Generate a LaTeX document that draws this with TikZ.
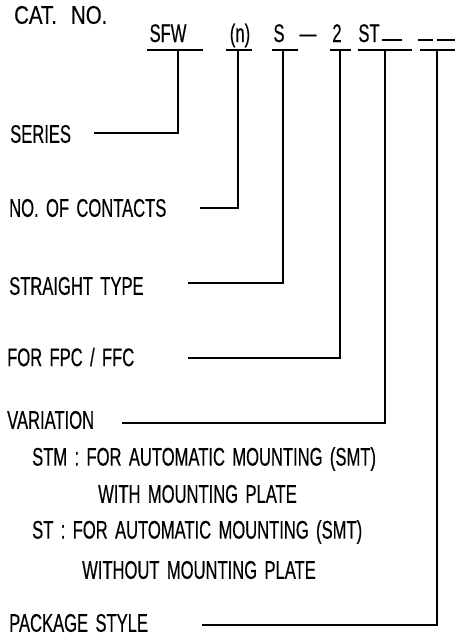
\documentclass[tikz,border=0pt]{standalone}
\usepackage{fontspec}
\setmainfont{Liberation Sans}[FakeStretch=0.65,WordSpace=1.6,FakeBold=0.4]
\newfontfamily\catfont{Liberation Sans}[FakeStretch=0.8,WordSpace=2.5,FakeBold=0.4]
\begin{document}
\begin{tikzpicture}[x=1pt,y=-1pt,
  lbl/.style={anchor=west,inner sep=0pt,font=\fontsize{25.5}{25.5}\selectfont},
  top/.style={anchor=base,inner sep=0pt,font=\fontsize{25.5}{25.5}\selectfont},
  ln/.style={line width=1.1pt}]
\useasboundingbox (0,0) rectangle (472,641);
% top row
\node[lbl,font=\catfont\fontsize{25.5}{25.5}\selectfont] (cat) at (14,15) {CAT. NO.};
\node[top] (sfw) at (168,42) {SFW};
\node[top] (nn) at (240,42) {(n)};
\node[top] (ss) at (279,42) {S};
\node[top] (dd) at (308,42) {---};
\node[top] (two) at (337,42) {2};
\node[top] (st) at (369,42) {ST};
% trailing blanks
\coordinate (b1a) at (382,40); \coordinate (b1b) at (402,40);
\coordinate (b2a) at (418,40); \coordinate (b2b) at (433,40);
\coordinate (b3a) at (437,40); \coordinate (b3b) at (455,40);
\draw[ln] (b1a) -- (b1b); \draw[ln] (b2a) -- (b2b); \draw[ln] (b3a) -- (b3b);
% underlines
\coordinate (u1a) at (147,50); \coordinate (u1b) at (203,50); \coordinate (t1) at (178,50);
\coordinate (u2a) at (226,50); \coordinate (u2b) at (252,50); \coordinate (t2) at (238,50);
\coordinate (u3a) at (272,50); \coordinate (u3b) at (298,50); \coordinate (t3) at (283,50);
\coordinate (u4a) at (330,50); \coordinate (u4b) at (351,50); \coordinate (t4) at (340,50);
\coordinate (u5a) at (358,50); \coordinate (u5b) at (412,50); \coordinate (t5) at (385,50);
\coordinate (u6a) at (420,50); \coordinate (u6b) at (455,50); \coordinate (t6) at (437,50);
\foreach \i in {1,...,6} {\draw[ln] (u\i a) -- (u\i b);}
% labels
\node[lbl] (series) at (10,134) {SERIES};
\node[lbl] (contacts) at (9,208) {NO. OF CONTACTS};
\node[lbl] (straight) at (9,286) {STRAIGHT TYPE};
\node[lbl] (fpc) at (7,357) {FOR FPC / FFC};
\node[lbl] (variation) at (7,420) {VARIATION};
\node[lbl] (stm) at (32,459) {STM : FOR AUTOMATIC MOUNTING (SMT)};
\node[lbl] (with) at (98,494) {WITH MOUNTING PLATE};
\node[lbl] (stx) at (32,532) {ST : FOR AUTOMATIC MOUNTING (SMT)};
\node[lbl] (without) at (82,570) {WITHOUT MOUNTING PLATE};
\node[lbl] (package) at (9,623) {PACKAGE STYLE};
% leader line starts
\coordinate (e1) at (94,133);
\coordinate (e2) at (200,208);
\coordinate (e3) at (188,283);
\coordinate (e4) at (188,358);
\coordinate (e5) at (122,423);
\coordinate (e6) at (202,625);
\foreach \i in {1,...,6} {\draw[ln] (t\i) |- (e\i);}
\end{tikzpicture}
\end{document}
